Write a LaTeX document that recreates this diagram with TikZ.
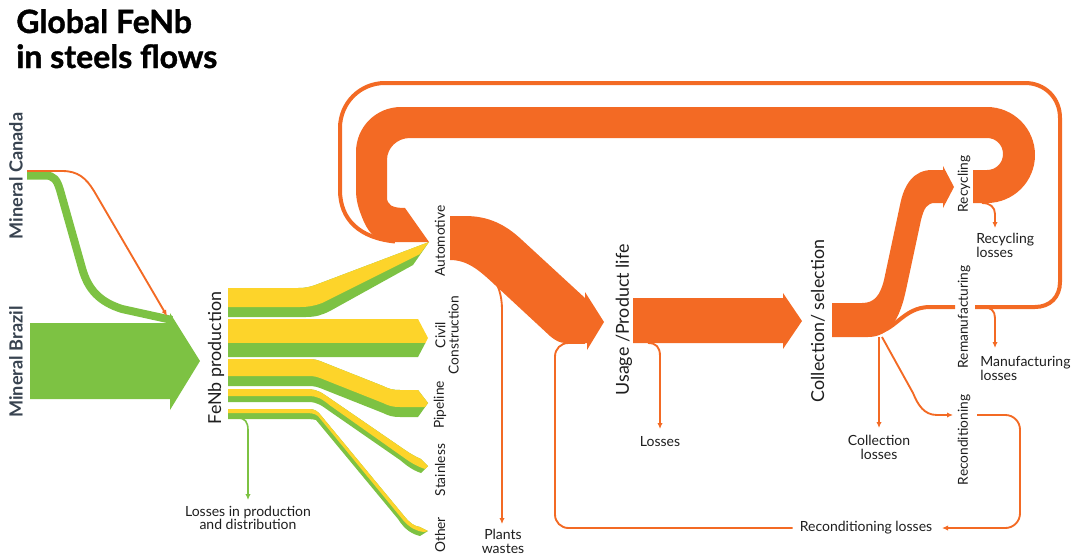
\documentclass[tikz,border=0pt]{standalone}
\usepackage{fontspec}
\setmainfont{Lato}
\newfontfamily\headfont{Lato}[BoldFeatures={FakeBold=1.2}]
\usetikzlibrary{arrows.meta}
\definecolor{flow}{HTML}{F36A24}
\definecolor{leaf}{HTML}{7DC243}
\definecolor{gold}{HTML}{FDD42A}
\definecolor{slate}{HTML}{384350}
\definecolor{ink}{HTML}{1E1E1E}

\begin{document}
\begin{tikzpicture}[x=0.75pt,y=-0.75pt,
  txt/.style={inner sep=0pt, align=center, text=ink, font=\fontsize{10.5}{10.2}\selectfont},
  sidetxt/.style={inner sep=0pt, align=center, text=ink, rotate=90, font=\fontsize{10.3}{10}\selectfont},
  bigtxt/.style={inner sep=0pt, text=ink, rotate=90, font=\fontsize{13.4}{14}\selectfont},
  oretxt/.style={inner sep=0pt, text=slate, rotate=90, font=\fontsize{13.6}{14}\selectfont\bfseries},
  titletxt/.style={inner sep=0pt, anchor=base west, text=black, font=\headfont\fontsize{24}{26}\selectfont\bfseries},
  thinflow/.style={draw=flow, line width=1.4pt},
  tipped/.style={thinflow, -{Latex[length=4.5pt,width=4pt]}},
  greentip/.style={draw=leaf, line width=1.2pt, -{Latex[length=4.5pt,width=4pt]}},
  loopline/.style={draw=flow, line width=3pt},
]
\useasboundingbox (0,0) rectangle (1075,557);

% ---------- title ----------
\node[titletxt] (title1) at (16,33) {Global FeNb};
\node[titletxt] (title2) at (16,68) {in steels flows};

% ---------- ore sources ----------
\node[oretxt] (canada) at (16,176) {Mineral Canada};
\node[oretxt] (brazil) at (16,362) {Mineral Brazil};

% Canada ore stream into FeNb production
\draw[leaf, line width=6pt] (27,175.5) -- (45,175.5)
  .. controls (54,175.5) and (57,180) .. (60,190) -- (82,268)
  .. controls (88,290) and (100,302) .. (122,309) -- (172,320);
\draw[tipped] (27,171) -- (62,171) .. controls (78,171) and (86,178) .. (94,191) -- (167,316);

% Brazil ore stream (arrow)
\fill[leaf] (30,323) -- (170,323) -- (170,313) -- (200,361) -- (170,410) -- (170,399) -- (30,399) -- cycle;

\node[bigtxt] (fenb) at (216,358) {FeNb production};

% ---------- FeNb to sectors ----------
% automotive
\fill[leaf] (228,288) -- (298,288) .. controls (306,288) and (310,287) .. (318,284) -- (429,242)
  -- (413,265) -- (330,311) .. controls (322,315) and (316,317) .. (306,317) -- (228,317) -- cycle;
\fill[gold] (228,288) -- (298,288) .. controls (306,288) and (310,287) .. (318,284) -- (429,242)
  -- (420,254) -- (322,303) .. controls (314,306) and (308,307) .. (300,307) -- (228,307) -- cycle;
% civil construction
\fill[gold] (228,319) -- (418,319) -- (428,338) -- (425.4,343) -- (228,343) -- cycle;
\fill[leaf] (228,343) -- (425.4,343) -- (418,357) -- (228,357) -- cycle;
% pipeline
\fill[leaf] (228,359) -- (308,359) .. controls (315,359) and (318,360) .. (325,363) -- (383,386)
  .. controls (389,389) and (393,390) .. (400,390) -- (418,390) -- (428,403) -- (418,417) -- (400,417)
  .. controls (393,417) and (389,416) .. (383,413) -- (325,390) .. controls (318,387) and (315,386) .. (308,386)
  -- (228,386) -- cycle;
\fill[gold] (228,359) -- (308,359) .. controls (315,359) and (318,360) .. (325,363) -- (383,386)
  .. controls (389,389) and (393,390) .. (400,390) -- (418,390) -- (428,403) -- (425.1,407) -- (400,407)
  .. controls (393,407) and (389,406) .. (383,403) -- (325,380) .. controls (318,377) and (315,376) .. (308,376)
  -- (228,376) -- cycle;
% stainless
\fill[leaf] (228,389) -- (303,389) .. controls (313,389) and (318,390) .. (325,395) -- (405,450)
  .. controls (411,454) and (416,457) .. (421,459) -- (428,466) -- (421,473)
  .. controls (412,470) and (406,465) .. (400,460) -- (330,411.5)
  .. controls (322,406) and (318,402) .. (308,402) -- (228,402) -- cycle;
\fill[gold] (228,389) -- (303,389) .. controls (313,389) and (318,390) .. (325,395) -- (405,450)
  .. controls (411,454) and (416,457) .. (421,459) -- (428,466) -- (425,469)
  .. controls (416,466) and (410,462) .. (403,457) -- (330,405.4)
  .. controls (322,399) and (318,396) .. (308,396) -- (228,396) -- cycle;
% other
\fill[leaf] (228,409) -- (305,409) .. controls (312,409) and (315,409) .. (319,413) -- (405,517)
  .. controls (410,523) and (414,526) .. (420,527) -- (428,531) -- (420,536)
  .. controls (412,534) and (405,530) .. (398,519) -- (316,420)
  .. controls (312,419) and (308,419) .. (300,419) -- (228,419) -- cycle;
\fill[gold] (228,409) -- (305,409) .. controls (312,409) and (315,409) .. (319,413) -- (405,517)
  .. controls (410,523) and (414,526) .. (420,527) -- (428,531) -- (424,532)
  .. controls (416,531) and (410,528) .. (403,520) -- (318,416)
  .. controls (314,413) and (310,413) .. (303,413) -- (228,413) -- cycle;

% production losses
\node[txt] (plosses) at (248,518) {Losses in production\\and distribution};
\draw[greentip] (228,418) -- (238,418) .. controls (245,418) and (248,422) .. (248,430) -- (248,500);

% sector labels
\node[sidetxt] (auto)  at (440,241) {Automotive};
\node[sidetxt] (civil) at (447,335) {Civil\\Construction};
\node[sidetxt] (pipe)  at (440,405) {Pipeline};
\node[sidetxt] (stain) at (440,470) {Stainless};
\node[sidetxt] (other) at (440,535) {Other};

% ---------- recycling loop (thick) ----------
\fill[flow] (429,242) -- (392,242) .. controls (378,242) and (370,235) .. (364,222)
  .. controls (358,208) and (356,200) .. (356,190) -- (356,152)
  .. controls (356,127) and (376,107) .. (401,107) -- (987,107)
  .. controls (1013.5,107) and (1035,128.5) .. (1035,155)
  .. controls (1035,181.5) and (1013.5,203) .. (987,203) -- (973,203) -- (973,170) -- (987,170)
  .. controls (996,170) and (1003,163) .. (1003,154)
  .. controls (1003,145) and (996,138) .. (987,138) -- (410,138)
  .. controls (397,138) and (387,148) .. (387,160) -- (387,197)
  .. controls (387,205) and (392,208) .. (405,208) -- cycle;

% ---------- remanufacturing loop (thin outer) ----------
\draw[loopline] (975,307) -- (1035,307) .. controls (1050,307) and (1060,297) .. (1060,282)
  -- (1060,118) .. controls (1060,98) and (1045,83) .. (1025,83) -- (385,83)
  .. controls (360,83) and (340,103) .. (340,128) -- (340,190)
  .. controls (340,220) and (360,238) .. (395,241.5);

% ---------- automotive to usage ----------
\fill[flow] (450,216) -- (465,216) .. controls (488,216) and (505,224) .. (522,240) -- (585,298)
  -- (585,292) -- (604,322) -- (587,350) -- (587,343) -- (566,343)
  .. controls (560,343) and (556,341) .. (550,336) -- (495,285)
  .. controls (480,271) and (468,260) .. (450,260) -- cycle;

\node[txt, anchor=north] (plants) at (503,529) {Plants\\wastes};
\draw[tipped] (483,270) .. controls (495,276) and (502,290) .. (502,310) -- (502,524);

\node[bigtxt] (usage) at (624,320) {Usage /Product life};

% usage to collection
\fill[flow] (633,298) -- (783,298) -- (783,293) -- (802,321) -- (783,349) -- (783,343) -- (633,343) -- cycle;
\node[txt] (losses) at (660,442) {Losses};
\draw[tipped] (648,343) .. controls (656,343) and (660,347) .. (660,356) -- (660,429);

\node[bigtxt] (collect) at (818,321) {Collection/ selection};

% ---------- collection to end-of-life routes ----------
\fill[flow] (832,303) -- (862,303) .. controls (874,303) and (880,296) .. (884,280) -- (900,205)
  .. controls (904,184) and (914,170) .. (932,170) -- (943,170) -- (943,166) -- (954,187)
  -- (943,208) -- (943,203) -- (935,203) .. controls (927,203) and (924,208) .. (921,220)
  -- (906,290) .. controls (900,318) and (890,337) .. (868,337) -- (832,337) -- cycle;

\node[sidetxt] (recyc)  at (964,184) {Recycling};
\node[sidetxt] (reman)  at (964,317) {Remanufacturing};
\node[sidetxt] (recond) at (964,440) {Reconditioning};

% remanufacturing branch
\draw[loopline] (872,333) .. controls (895,333) and (902,307) .. (930,307) -- (955,307);

% recycling losses
\node[txt, anchor=north west, align=left] (reclosses) at (976,233) {Recycling\\losses};
\draw[tipped] (982,203) .. controls (990,203) and (995,207) .. (995,214) -- (995,228);

% manufacturing losses
\node[txt, anchor=north west, align=left] (manlosses) at (980,356) {Manufacturing\\losses};
\draw[tipped] (983,307) .. controls (991,307) and (995,311) .. (995,318) -- (995,348);

% collection losses
\node[txt, anchor=north] (cllosses) at (879,435) {Collection\\losses};
\draw[tipped] (879,337) -- (879,428);

% reconditioning
\draw[tipped] (882,337) -- (913,393) .. controls (918,405) and (924,415) .. (937,415) -- (953,415);
\node[txt] (recondlosses) at (866,528) {Reconditioning losses};
\draw[tipped, rounded corners=11pt] (977,415) -- (1020,415) -- (1020,528) -- (942,528);
\draw[thinflow, rounded corners=10pt] (recondlosses.west) ++(-7,0) -- (555,528) -- (555,343) -- (585,343);

\end{tikzpicture}
\end{document}
